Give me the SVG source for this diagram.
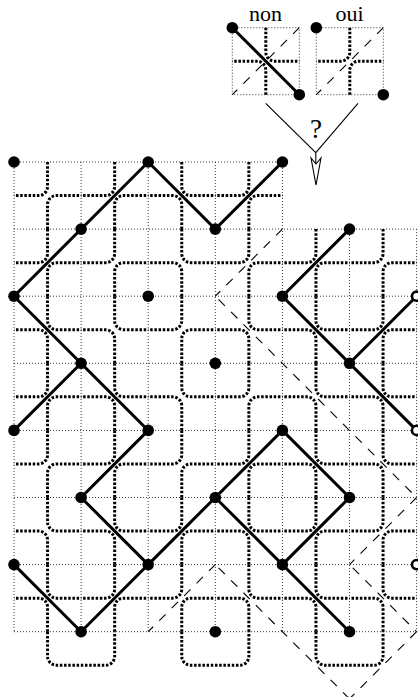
<svg xmlns="http://www.w3.org/2000/svg" width="418" height="697" viewBox="0 0 418 697">
<style>
.thin{fill:none;stroke:#000;stroke-width:.8;stroke-dasharray:1 2}
.thick{fill:none;stroke:#000;stroke-width:3;stroke-dasharray:2.5 1.69}
.dash{fill:none;stroke:#000;stroke-width:1.1;stroke-dasharray:9 8.6}
.edge{fill:none;stroke:#000;stroke-width:3;stroke-linecap:round}
.v{fill:#000}
.o{fill:#fff;stroke:#000;stroke-width:2.6}
.l{font-family:"Liberation Serif","Times New Roman",serif;font-size:22px;fill:#000;text-anchor:middle}
.q{font-family:"Liberation Serif","Times New Roman",serif;font-size:27px;fill:#000;text-anchor:middle}
</style>
<defs>
<path id="f" d="M0-33.55V-9A9 9 0 0 1-9 0H-33.55M0 33.55V9A9 9 0 0 1 9 0H33.55"/>
<path id="b" d="M0-33.55V-9A9 9 0 0 0 9 0H33.55M0 33.55V9A9 9 0 0 0-9 0H-33.55"/>
</defs>
<rect width="418" height="697" fill="#fff"/>
<g id="legend-non">
<rect class="thin" x="232.3" y="27.7" width="67" height="67"/>
<use class="thick" href="#b" x="265.8" y="61.2"/>
<path class="dash" stroke-dashoffset="2" d="M232.3 94.7L299.3 27.7"/>
<path class="edge" d="M232.3 27.7L299.3 94.7"/>
<circle class="v" cx="232.3" cy="27.7" r="5.8"/>
<circle class="v" cx="299.3" cy="94.7" r="5.8"/>
<text class="l" x="265.5" y="20.5">non</text>
</g>
<g id="legend-oui">
<rect class="thin" x="316.3" y="27.7" width="67" height="67"/>
<use class="thick" href="#f" x="349.8" y="61.2"/>
<path class="dash" stroke-dashoffset="2" d="M316.3 94.7L383.3 27.7"/>
<circle class="v" cx="316.3" cy="27.7" r="5.8"/>
<circle class="v" cx="383.3" cy="94.7" r="5.8"/>
<text class="l" x="349.5" y="20.5">oui</text>
</g>
<g id="question">
<path fill="none" stroke="#000" stroke-width="1.1" d="M265.7 103.3L315.8 152.7L358 103.3M315.8 152.7V165"/>
<path fill="#fff" stroke="#000" stroke-width="1.1" d="M316 185L311 158L316 164L321 158Z"/>
<text class="q" x="316" y="138">?</text>
</g>
<g id="grid">
<path class="thin" d="M14 162H282.4M14 229.1H416.6M14 296.2H416.6M14 363.3H416.6M14 430.4H416.6M14 497.5H416.6M14 564.6H416.6M14 631.7H416.6"/>
<path class="thin" d="M14 162V631.7M81.1 162V631.7M148.2 162V631.7M215.3 162V631.7M282.4 162V631.7M349.5 229.1V631.7M416.6 229.1V631.7"/>
</g>
<g id="curve" class="thick">
<use href="#f" x="47.55" y="195.55"/><use href="#f" x="114.65" y="195.55"/><use href="#b" x="181.75" y="195.55"/><use href="#f" x="248.85" y="195.55"/>
<use href="#f" x="47.55" y="262.65"/><use href="#f" x="114.65" y="262.65"/><use href="#b" x="181.75" y="262.65"/><use href="#f" x="248.85" y="262.65"/><use href="#f" x="315.95" y="262.65"/><use href="#f" x="383.05" y="262.65"/>
<use href="#b" x="47.55" y="329.75"/><use href="#b" x="114.65" y="329.75"/><use href="#f" x="181.75" y="329.75"/><use href="#b" x="248.85" y="329.75"/><use href="#b" x="315.95" y="329.75"/><use href="#f" x="383.05" y="329.75"/>
<use href="#f" x="47.55" y="396.85"/><use href="#b" x="114.65" y="396.85"/><use href="#b" x="181.75" y="396.85"/><use href="#f" x="248.85" y="396.85"/><use href="#b" x="315.95" y="396.85"/><use href="#b" x="383.05" y="396.85"/>
<use href="#f" x="47.55" y="463.95"/><use href="#f" x="114.65" y="463.95"/><use href="#f" x="181.75" y="463.95"/><use href="#f" x="248.85" y="463.95"/><use href="#b" x="315.95" y="463.95"/><use href="#b" x="383.05" y="463.95"/>
<use href="#b" x="47.55" y="531.05"/><use href="#b" x="114.65" y="531.05"/><use href="#f" x="181.75" y="531.05"/><use href="#b" x="248.85" y="531.05"/><use href="#f" x="315.95" y="531.05"/><use href="#f" x="383.05" y="531.05"/>
<use href="#b" x="47.55" y="598.15"/><use href="#f" x="114.65" y="598.15"/><use href="#f" x="181.75" y="598.15"/><use href="#b" x="248.85" y="598.15"/><use href="#b" x="315.95" y="598.15"/><use href="#b" x="383.05" y="598.15"/>
<path d="M47.55 631.7V656.25A9 9 0 0 0 56.55 665.25H105.65A9 9 0 0 0 114.65 656.25V631.7"/>
<path d="M181.75 631.7V656.25A9 9 0 0 0 190.75 665.25H239.85A9 9 0 0 0 248.85 656.25V631.7"/>
<path d="M315.95 631.7V656.25A9 9 0 0 0 324.95 665.25H374.05A9 9 0 0 0 383.05 656.25V631.7"/>
</g>
<g id="connectors">
<g id="dual-edges" class="dash">
<path stroke-dashoffset="2" d="M215.3 296.2L282.4 229.1"/>
<path stroke-dashoffset="13" d="M215.3 296.2L416.6 497.5"/>
<path stroke-dashoffset="2" d="M349.5 564.6L416.6 497.5"/>
<path stroke-dashoffset="13" d="M349.5 564.6L416.6 631.7"/>
<path stroke-dashoffset="2" d="M349.5 698.8L416.6 631.7"/>
<path stroke-dashoffset="2" d="M148.2 631.7L215.3 564.6"/>
<path stroke-dashoffset="13" d="M215.3 564.6L349.5 698.8"/>
</g>
<g id="edges" class="edge">
<path d="M14 296.2L148.2 162L215.3 229.1L282.4 162"/>
<path d="M349.5 229.1L282.4 296.2L416.6 430.4"/>
<path d="M349.5 363.3L416.6 296.2"/>
<path d="M14 296.2L148.2 430.4L81.1 497.5L148.2 564.6L81.1 631.7L14 564.6"/>
<path d="M81.1 363.3L14 430.4"/>
<path d="M148.2 564.6L282.4 430.4L349.5 497.5L282.4 564.6L349.5 631.7"/>
<path d="M215.3 497.5L282.4 564.6"/>
</g>
</g>
<g id="vertices">
<circle class="v" cx="14" cy="162" r="5.8"/><circle class="v" cx="148.2" cy="162" r="5.8"/><circle class="v" cx="282.4" cy="162" r="5.8"/>
<circle class="v" cx="81.1" cy="229.1" r="5.8"/><circle class="v" cx="215.3" cy="229.1" r="5.8"/><circle class="v" cx="349.5" cy="229.1" r="5.8"/>
<circle class="v" cx="14" cy="296.2" r="5.8"/><circle class="v" cx="148.2" cy="296.2" r="5.8"/><circle class="v" cx="282.4" cy="296.2" r="5.8"/>
<circle class="v" cx="81.1" cy="363.3" r="5.8"/><circle class="v" cx="215.3" cy="363.3" r="5.8"/><circle class="v" cx="349.5" cy="363.3" r="5.8"/>
<circle class="v" cx="14" cy="430.4" r="5.8"/><circle class="v" cx="148.2" cy="430.4" r="5.8"/><circle class="v" cx="282.4" cy="430.4" r="5.8"/>
<circle class="v" cx="81.1" cy="497.5" r="5.8"/><circle class="v" cx="215.3" cy="497.5" r="5.8"/><circle class="v" cx="349.5" cy="497.5" r="5.8"/>
<circle class="v" cx="14" cy="564.6" r="5.8"/><circle class="v" cx="148.2" cy="564.6" r="5.8"/><circle class="v" cx="282.4" cy="564.6" r="5.8"/>
<circle class="v" cx="81.1" cy="631.7" r="5.8"/><circle class="v" cx="215.3" cy="631.7" r="5.8"/><circle class="v" cx="349.5" cy="631.7" r="5.8"/>
<circle class="o" cx="416.6" cy="296.2" r="4.6"/><circle class="o" cx="416.6" cy="430.4" r="4.6"/><circle class="o" cx="416.6" cy="564.6" r="4.6"/>
</g>
</svg>
